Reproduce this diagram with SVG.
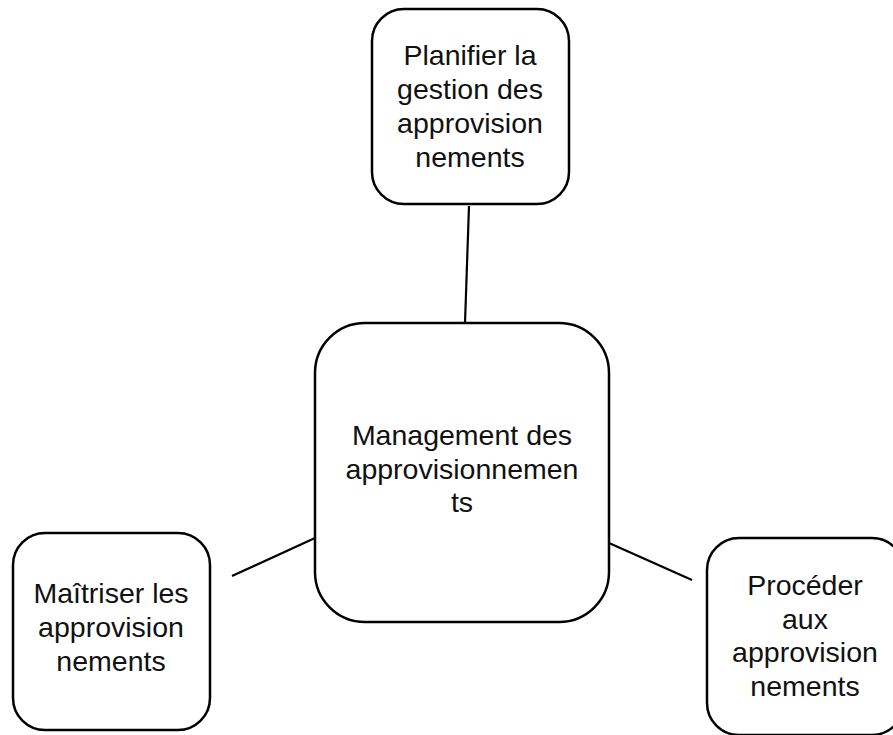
<svg xmlns="http://www.w3.org/2000/svg" width="893" height="735" viewBox="0 0 893 735">
  <style>
    .box { fill: #ffffff; stroke: #000000; stroke-width: 2.5; }
    .link { stroke: #000000; stroke-width: 2.2; fill: none; }
    .label { font-family: "Liberation Sans", Arial, sans-serif; font-size: 28.5px; fill: #111111; text-anchor: middle; }
  </style>
  <rect width="893" height="735" fill="#ffffff"/>

  <g id="connectors">
    <line class="link" x1="469" y1="206" x2="465" y2="323"/>
    <line class="link" x1="232" y1="576" x2="315" y2="538"/>
    <line class="link" x1="609" y1="543" x2="692" y2="580"/>
  </g>

  <g id="node-planifier">
    <rect class="box" x="372" y="9" width="197" height="195" rx="32" ry="32"/>
    <text class="label" x="470" y="65">Planifier la</text>
    <text class="label" x="470" y="99">gestion des</text>
    <text class="label" x="470" y="133">approvision</text>
    <text class="label" x="470" y="167">nements</text>
  </g>

  <g id="node-management">
    <rect class="box" x="315" y="323" width="294" height="299" rx="50" ry="50"/>
    <text class="label" x="462" y="445">Management des</text>
    <text class="label" x="462" y="478.5">approvisionnemen</text>
    <text class="label" x="462" y="512">ts</text>
  </g>

  <g id="node-maitriser">
    <rect class="box" x="13" y="533" width="197" height="197" rx="32" ry="32"/>
    <text class="label" x="111" y="603">Maîtriser les</text>
    <text class="label" x="111" y="637">approvision</text>
    <text class="label" x="111" y="671">nements</text>
  </g>

  <g id="node-proceder">
    <rect class="box" x="707" y="538" width="197" height="197" rx="32" ry="32"/>
    <text class="label" x="805" y="595">Procéder</text>
    <text class="label" x="805" y="628.5">aux</text>
    <text class="label" x="805" y="662">approvision</text>
    <text class="label" x="805" y="695.5">nements</text>
  </g>
</svg>
